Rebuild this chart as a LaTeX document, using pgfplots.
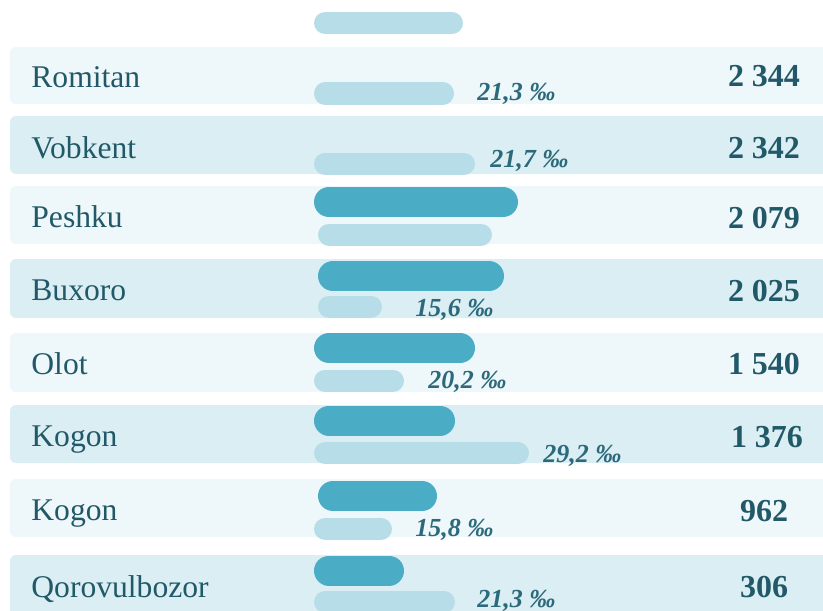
\documentclass[border=0pt]{standalone}
\usepackage{fontspec}
\setmainfont{Liberation Serif}
\usepackage{pgfplots}
\pgfplotsset{compat=1.18}
\definecolor{stripeA}{HTML}{EEF7FA}
\definecolor{stripeB}{HTML}{DAEEF3}
\definecolor{barDark}{HTML}{4BACC6}
\definecolor{barLight}{HTML}{B7DEE8}
\definecolor{txt}{HTML}{215968}
\definecolor{pct}{HTML}{2C6A7B}

% bar segments (pixel units, y = bar centre); round caps give the rounded ends
\pgfplotstableread{
x y
329 202
503 202
nan nan
333 276
489 276
nan nan
329 348
460 348
nan nan
329 420.5
440 420.5
nan nan
333 496
422 496
nan nan
329 570.5
389 570.5
}\darkbars
\pgfplotstableread{
x y
325 23
452 23
nan nan
325 93.5
443 93.5
nan nan
325 163.5
464 163.5
nan nan
329 234.5
481 234.5
nan nan
329 306.5
371 306.5
nan nan
325 380.5
393 380.5
nan nan
325 453
518 453
nan nan
325 529
381 529
nan nan
325 602
444 602
}\lightbars

\newcommand{\nm}[1]{\fontsize{15.8}{18}\selectfont\color{txt}#1}
\newcommand{\vl}[1]{\fontsize{16}{18}\selectfont\bfseries\color{txt}#1}
\newcommand{\pc}[1]{\fontsize{13}{15}\selectfont\bfseries\itshape\color{pct}#1}

\begin{document}
\begin{tikzpicture}
\begin{axis}[
  scale only axis, width=411.5pt, height=305pt,
  xmin=0, xmax=823, ymin=0, ymax=610, y dir=reverse,
  hide axis, clip=true, unbounded coords=jump,
]
\coordinate (bl) at (rel axis cs:0,0);
\coordinate (tr) at (rel axis cs:1,1);
% stripes
\addplot[draw=none, fill=stripeA, rounded corners=3pt] coordinates {(400,47) (870,47) (870,104) (10,104) (10,47) (400,47)};
\addplot[draw=none, fill=stripeB, rounded corners=3pt] coordinates {(400,116) (870,116) (870,174) (10,174) (10,116) (400,116)};
\addplot[draw=none, fill=stripeA, rounded corners=3pt] coordinates {(400,186) (870,186) (870,244) (10,244) (10,186) (400,186)};
\addplot[draw=none, fill=stripeB, rounded corners=3pt] coordinates {(400,259) (870,259) (870,318) (10,318) (10,259) (400,259)};
\addplot[draw=none, fill=stripeA, rounded corners=3pt] coordinates {(400,333) (870,333) (870,392) (10,392) (10,333) (400,333)};
\addplot[draw=none, fill=stripeB, rounded corners=3pt] coordinates {(400,405) (870,405) (870,463) (10,463) (10,405) (400,405)};
\addplot[draw=none, fill=stripeA, rounded corners=3pt] coordinates {(400,479) (870,479) (870,537) (10,537) (10,479) (400,479)};
\addplot[draw=none, fill=stripeB, rounded corners=3pt] coordinates {(400,555) (870,555) (870,640) (10,640) (10,555) (400,555)};
% bars
\addplot[barDark, line width=15pt, line cap=round, no markers] table {\darkbars};
\addplot[barLight, line width=11pt, line cap=round, no markers] table {\lightbars};
% names
\node[anchor=base west, inner xsep=0pt] at (axis cs:31,88) {\nm{Romitan}};
\node[anchor=base west, inner xsep=0pt] at (axis cs:31,158) {\nm{Vobkent}};
\node[anchor=base west, inner xsep=0pt] at (axis cs:31,227) {\nm{Peshku}};
\node[anchor=base west, inner xsep=0pt] at (axis cs:31,300) {\nm{Buxoro}};
\node[anchor=base west, inner xsep=0pt] at (axis cs:31,374) {\nm{Olot}};
\node[anchor=base west, inner xsep=0pt] at (axis cs:31,446) {\nm{Kogon}};
\node[anchor=base west, inner xsep=0pt] at (axis cs:31,520) {\nm{Kogon}};
\node[anchor=base west, inner xsep=0pt] at (axis cs:31,597) {\nm{Qorovulbozor}};
% values
\node[anchor=base] at (axis cs:764,87) {\vl{2 344}};
\node[anchor=base] at (axis cs:764,158) {\vl{2 342}};
\node[anchor=base] at (axis cs:764,228) {\vl{2 079}};
\node[anchor=base] at (axis cs:764,301) {\vl{2 025}};
\node[anchor=base] at (axis cs:764,374) {\vl{1 540}};
\node[anchor=base] at (axis cs:767,447) {\vl{1 376}};
\node[anchor=base] at (axis cs:764,521) {\vl{962}};
\node[anchor=base] at (axis cs:764,597) {\vl{306}};
% percent labels
\node[anchor=base west, inner xsep=0pt] at (axis cs:477,100) {\pc{21,3 ‰}};
\node[anchor=base west, inner xsep=0pt] at (axis cs:490,167) {\pc{21,7 ‰}};
\node[anchor=base west, inner xsep=0pt] at (axis cs:415,316) {\pc{15,6 ‰}};
\node[anchor=base west, inner xsep=0pt] at (axis cs:428,388) {\pc{20,2 ‰}};
\node[anchor=base west, inner xsep=0pt] at (axis cs:543,462) {\pc{29,2 ‰}};
\node[anchor=base west, inner xsep=0pt] at (axis cs:415,536) {\pc{15,8 ‰}};
\node[anchor=base west, inner xsep=0pt] at (axis cs:477,607) {\pc{21,3 ‰}};
\end{axis}
\pgfresetboundingbox
\path (bl) rectangle (tr);
\end{tikzpicture}
\end{document}
